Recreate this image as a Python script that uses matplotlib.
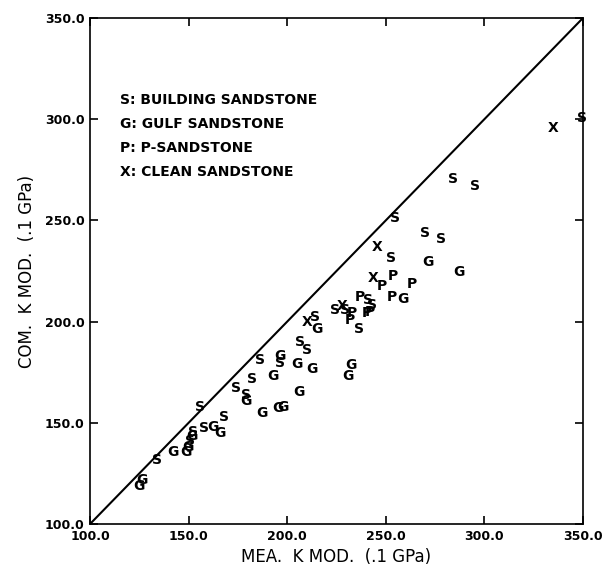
import numpy as np
import matplotlib
matplotlib.use("Agg")
import matplotlib.pyplot as plt

s_x = [134.1, 150.7, 152.2, 155.8, 157.8, 168.0, 174.0, 179.1, 182.0, 186.2, 196.3,
       206.5, 210.2, 214.1, 224.2, 229.3, 236.6, 241.1, 242.8, 252.6, 254.7, 269.9,
       278.0, 284.2, 295.2, 349.5]
s_y = [131.6, 141.0, 145.5, 158.0, 147.3, 153.0, 167.0, 163.7, 171.6, 181.0, 179.5,
       190.1, 186.0, 202.4, 205.7, 205.7, 196.2, 210.7, 208.2, 231.3, 251.0, 243.6,
       240.8, 270.3, 267.0, 300.6]

g_x = [124.8, 126.4, 142.3, 148.7, 149.7, 151.7, 162.5, 165.9, 179.1, 187.4, 192.6,
       195.5, 196.3, 198.0, 205.1, 206.1, 212.4, 215.0, 231.0, 232.4, 258.6, 271.2,
       287.1]
g_y = [118.8, 121.7, 135.4, 135.6, 138.0, 143.5, 148.1, 144.8, 160.8, 155.0, 173.3,
       157.2, 182.9, 158.0, 179.1, 165.1, 176.6, 196.2, 173.1, 178.6, 211.0, 229.6,
       224.4]

p_x = [232.7, 231.8, 236.9, 240.3, 242.0, 247.9, 253.3, 253.5, 263.1]
p_y = [204.1, 200.8, 212.3, 204.1, 204.9, 217.7, 212.0, 222.5, 218.6]

x_x = [209.9, 227.6, 243.4, 245.7, 334.8]
x_y = [200.0, 207.7, 221.4, 236.7, 295.7]

legend_lines = ["S: BUILDING SANDSTONE", "G: GULF SANDSTONE",
                "P: P-SANDSTONE", "X: CLEAN SANDSTONE"]

ticks = [100, 150, 200, 250, 300, 350]

plt.rcParams['font.family'] = ['DejaVu Sans']

fig = plt.figure(figsize=(6.05, 5.71), dpi=100)
ax = fig.add_axes([0.1488, 0.0823, 0.8148, 0.8862])

# 1:1 line
ax.plot([100, 350], [100, 350], color='black', lw=1.5)

groups = [("S", s_x, s_y), ("G", g_x, g_y), ("P", p_x, p_y), ("X", x_x, x_y)]
for letter, xs, ys in groups:
    for xv, yv in zip(xs, ys):
        ax.text(xv, yv, letter, ha='center', va='center', fontsize=10,
                fontweight='bold', color='black')

for i, line in enumerate(legend_lines):
    ax.text(0.061, 0.838 - i * 0.0475, line, transform=ax.transAxes,
            ha='left', va='center', fontsize=10, fontweight='bold')

ax.set_xlim(100, 350)
ax.set_ylim(100, 350)
ax.set_xticks(ticks)
ax.set_yticks(ticks)
ax.set_xticklabels(["%.1f" % t for t in ticks])
ax.set_yticklabels(["%.1f" % t for t in ticks])
ax.tick_params(direction='in', length=6, width=1.2, top=True, right=True,
               labelsize=9, pad=4)
for lab in ax.get_xticklabels() + ax.get_yticklabels():
    lab.set_fontweight('bold')
for sp in ax.spines.values():
    sp.set_linewidth(1.2)

ax.set_xlabel("MEA.  K MOD.  (.1 GPa)", fontsize=12, labelpad=4)
ax.set_ylabel("COM.  K MOD.  (.1 GPa)", fontsize=12, labelpad=6)

fig.savefig("out.png", dpi=100)
